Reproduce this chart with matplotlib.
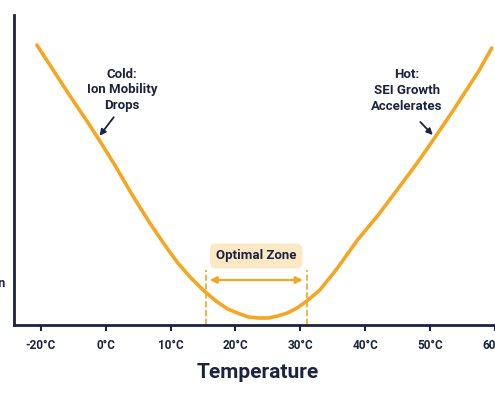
import matplotlib.pyplot as plt

plt.rcParams['font.family'] = ['Roboto', 'DejaVu Sans']

# tick slots are evenly spaced; labels as printed on the chart
tick_labels = ['-20°C', '0°C', '10°C', '20°C', '30°C', '40°C', '50°C', '60°C']
# curve: x in tick-slot units, y in "height" units
curve_x = [-0.06, 0.20, 0.45, 0.70, 0.90, 1.15, 1.40, 1.67, 1.90, 2.10, 2.30, 2.50,
           2.70, 2.88, 3.03, 3.20, 3.35, 3.50, 3.65, 3.80, 3.95, 4.10, 4.30,
           4.55, 4.88, 5.20, 5.49, 5.80, 6.10, 6.35, 6.56, 6.75, 6.95]
curve_y = [280, 254, 229, 205, 185, 159, 131, 103, 81, 63, 48, 35,
           24, 16, 12, 8, 7, 7, 9, 12, 17, 24, 35,
           55, 85, 110, 135, 162, 190, 214, 235, 254, 277]
zone_lo, zone_hi = 2.54, 4.10

navy = '#1b2340'
gold = '#f5a623'

fig = plt.figure(figsize=(4.95, 4.0), dpi=100)
ax = fig.add_axes([14 / 495, 75 / 400, 481 / 495, 310 / 400])
ax.set_xlim(-0.413, 6.94)
ax.set_ylim(0, 310)

ax.plot(curve_x, curve_y, color=gold, lw=2.6, solid_capstyle='round', solid_joinstyle='round')

for z in (zone_lo, zone_hi):
    ax.plot([z, z], [0, 55], color=gold, lw=1.2, ls='--')
ax.annotate('', xy=(zone_hi - 0.02, 45), xytext=(zone_lo + 0.02, 45),
            arrowprops=dict(arrowstyle='<|-|>', color=gold, lw=1.6, mutation_scale=10))
ax.text((zone_lo + zone_hi) / 2, 69, 'Optimal Zone', ha='center', va='center',
        fontsize=9.5, fontweight='bold', color=navy,
        bbox=dict(boxstyle='round,pad=0.45', fc='#fde8c6', ec='none'))

ax.text(1.25, 235, 'Cold:\nIon Mobility\nDrops', ha='center', va='center',
        fontsize=9.5, fontweight='bold', color=navy, linespacing=1.3)
ax.annotate('', xy=(0.88, 187), xytext=(1.15, 210),
            arrowprops=dict(arrowstyle='-|>', color=navy, lw=1.3, mutation_scale=9))
ax.text(5.64, 235, 'Hot:\nSEI Growth\nAccelerates', ha='center', va='center',
        fontsize=9.5, fontweight='bold', color=navy, linespacing=1.3)
ax.annotate('', xy=(6.07, 188), xytext=(5.82, 205),
            arrowprops=dict(arrowstyle='-|>', color=navy, lw=1.3, mutation_scale=9))

ax.set_xticks(range(len(tick_labels)))
ax.set_xticklabels(tick_labels, fontsize=8.5, fontweight='bold', color=navy)
ax.tick_params(axis='x', length=4, width=1.5, color=navy, pad=6)
ax.set_yticks([])
for s in ('top', 'right'):
    ax.spines[s].set_visible(False)
for s in ('left', 'bottom'):
    ax.spines[s].set_color(navy)
    ax.spines[s].set_linewidth(2)
ax.plot(-0.413, 1, marker='^', color=navy, markersize=9, transform=ax.get_yaxis_transform(),
        clip_on=False)

fig.text(258 / 495, 1 - 372 / 400, 'Temperature', ha='center', va='center',
         fontsize=15, fontweight='bold', color=navy)
fig.text(6 / 495, 1 - 283 / 400, 'Degradation', ha='right', va='center',
         fontsize=9, fontweight='bold', color=navy)

fig.savefig('out.png', dpi=100)
